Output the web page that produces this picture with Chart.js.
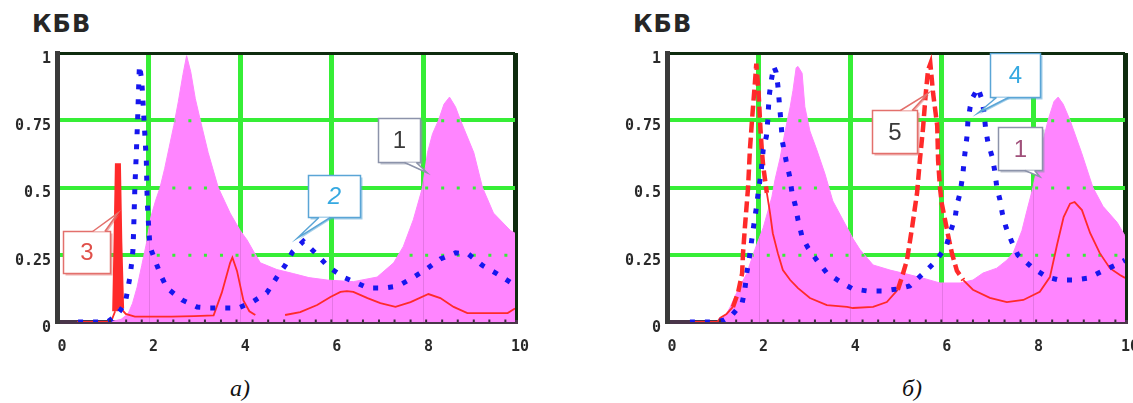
<!DOCTYPE html>
<html lang="ru">
<head>
<meta charset="utf-8">
<title>КБВ</title>
<script src="https://cdn.jsdelivr.net/npm/chart.js@4.4.1/dist/chart.umd.min.js"></script>
<style>
  html, body { margin: 0; padding: 0; background: #fff; }
  body { width: 1133px; height: 403px; overflow: hidden; position: relative; }
  canvas { position: absolute; top: 0; }
  .ttl { position: absolute; top: 12px; font: bold 24px/24px "DejaVu Sans", sans-serif; color: #262626; letter-spacing: 1px; }
  .cap { position: absolute; top: 376px; font: italic 24px/24px "Liberation Serif", serif; color: #111; }
</style>
</head>
<body>
<div class="ttl" style="left:32px">КБВ</div>
<div class="ttl" style="left:633px">КБВ</div>
<canvas id="chartA" width="560" height="370" style="left:0"></canvas>
<canvas id="chartB" width="560" height="370" style="left:610px"></canvas>
<div class="cap" style="left:230px">а)</div>
<div class="cap" style="left:902px">б)</div>

<script>
// ---- axes ----
const xTickVals = [0, 2, 4, 6, 8, 10];
const xTickLabels = ['0', '2', '4', '6', '8', '10'];
const yTickVals = [0, 0.25, 0.5, 0.75, 1];
const yTickLabels = ['0', '0.25', '0.5', '0.75', '1'];

// positions of the small marks along the bottom axis (edges of the KBV-1 bars)
const barEdges = [1.16, 1.51, 1.85, 2.2, 2.54, 2.89, 3.23, 3.58, 3.92, 4.27, 4.61, 4.96, 5.3,
  5.65, 5.99, 6.34, 6.68, 7.03, 7.37, 7.72, 8.06, 8.41, 8.75, 9.1, 9.44, 9.79];

// ---- panel а) ----
// curve 1 (filled)
const curve1A = [[1.15,0],[1.4,0.01],[1.55,0.03],[1.65,0.07],[1.75,0.13],[1.85,0.21],[1.95,0.29],
  [2.05,0.39],[2.15,0.45],[2.25,0.5],[2.35,0.57],[2.45,0.65],[2.55,0.73],[2.65,0.82],[2.75,0.92],
  [2.83,0.99],[2.92,0.93],[3.02,0.83],[3.13,0.75],[3.3,0.63],[3.52,0.5],[3.78,0.405],[4.0,0.34],
  [4.15,0.305],[4.3,0.26],[4.44,0.22],[4.8,0.195],[5.16,0.18],[5.5,0.165],[5.9,0.156],[6.47,0.15],
  [6.99,0.167],[7.35,0.22],[7.56,0.28],[7.78,0.38],[7.98,0.5],[8.09,0.63],[8.2,0.7],[8.33,0.75],
  [8.45,0.81],[8.57,0.836],[8.7,0.8],[8.81,0.75],[9.1,0.63],[9.29,0.5],[9.53,0.405],[9.9,0.34],[10,0.33]];
// curve 2 (dotted)
const curve2A = [[0.46,0],[0.79,0],[1.05,0],[1.12,0.003],[1.31,0.026],[1.49,0.07],[1.55,0.126],
  [1.6,0.175],[1.63,0.22],[1.66,0.27],[1.68,0.38],[1.7,0.5],[1.73,0.62],[1.76,0.75],[1.78,0.86],
  [1.8,0.955],[1.85,0.9],[1.9,0.75],[1.95,0.6],[1.97,0.45],[2.0,0.36],[2.03,0.28],[2.14,0.23],
  [2.25,0.18],[2.4,0.126],[2.73,0.082],[3.06,0.056],[3.34,0.052],[3.63,0.052],[3.96,0.052],
  [4.26,0.074],[4.58,0.108],[4.79,0.164],[4.98,0.21],[5.14,0.26],[5.38,0.3],[5.64,0.257],
  [5.92,0.206],[6.25,0.167],[6.55,0.145],[6.8,0.126],[7.13,0.126],[7.45,0.134],[7.76,0.164],
  [8.07,0.197],[8.37,0.234],[8.7,0.257],[8.98,0.253],[9.29,0.21],[9.6,0.18],[9.92,0.145],[10,0.14]];
// curve 3 (thin solid, with a narrow spike)
const curve3A = [[0.44,0],[1.1,0],[1.2,0.01],[1.27,0.04],[1.3,0.3],[1.33,0.59],[1.36,0.3],
  [1.4,0.05],[1.5,0.03],[1.7,0.02],[2.0,0.02],[2.5,0.02],[3.0,0.022],[3.42,0.025],[3.6,0.11],
  [3.78,0.22],[3.83,0.24],[3.93,0.19],[4.07,0.08],[4.2,0.04],[4.33,0.026],[4.6,null],
  [4.98,0.026],[5.31,0.037],[5.68,0.063],[5.97,0.093],[6.19,0.112],[6.33,0.115],[6.47,0.112],
  [6.78,0.089],[7.06,0.07],[7.39,0.056],[7.72,0.074],[8.11,0.104],[8.37,0.089],[8.66,0.056],
  [8.96,0.033],[9.46,0.033],[9.84,0.033],[10,0.05]];

// ---- panel б) ----
const curve1B = [[1.16,0],[1.3,0.03],[1.38,0.056],[1.52,0.108],[1.74,0.18],[1.92,0.27],[2.1,0.35],
  [2.29,0.465],[2.36,0.53],[2.47,0.61],[2.58,0.71],[2.69,0.8],[2.75,0.86],[2.82,0.945],[2.86,0.95],
  [2.95,0.925],[3.01,0.8],[3.12,0.71],[3.27,0.64],[3.45,0.55],[3.62,0.45],[3.84,0.38],[4.06,0.31],
  [4.21,0.27],[4.5,0.212],[4.87,0.193],[5.24,0.178],[5.59,0.163],[5.96,0.145],[6.4,0.145],
  [6.68,0.156],[6.9,0.182],[7.2,0.2],[7.42,0.23],[7.56,0.257],[7.75,0.34],[7.86,0.415],[7.99,0.5],
  [8.15,0.63],[8.32,0.75],[8.45,0.82],[8.54,0.836],[8.65,0.81],[8.8,0.75],[9.05,0.63],[9.3,0.5],
  [9.52,0.43],[9.83,0.37],[10,0.32]];
// curve 4 (dotted)
const curve4B = [[0.5,0],[0.79,0],[1.09,0],[1.25,0.008],[1.42,0.026],[1.64,0.07],[1.7,0.12],
  [1.74,0.18],[1.79,0.23],[1.83,0.28],[1.87,0.33],[1.92,0.39],[1.96,0.435],[1.99,0.48],[2.05,0.55],
  [2.1,0.64],[2.17,0.69],[2.2,0.75],[2.23,0.84],[2.28,0.9],[2.33,0.95],[2.38,0.93],[2.42,0.88],
  [2.46,0.8],[2.49,0.74],[2.52,0.67],[2.6,0.6],[2.68,0.54],[2.73,0.48],[2.8,0.435],[2.86,0.38],
  [2.95,0.316],[3.08,0.275],[3.27,0.23],[3.49,0.182],[3.82,0.145],[4.06,0.123],[4.39,0.115],
  [4.72,0.115],[5.04,0.123],[5.3,0.134],[5.63,0.186],[5.85,0.223],[6.09,0.279],[6.18,0.33],
  [6.29,0.387],[6.33,0.435],[6.4,0.48],[6.46,0.55],[6.5,0.62],[6.55,0.69],[6.57,0.745],[6.62,0.8],
  [6.68,0.836],[6.79,0.87],[6.88,0.825],[6.92,0.78],[6.96,0.714],[7.01,0.665],[7.1,0.614],
  [7.16,0.558],[7.2,0.502],[7.27,0.454],[7.32,0.405],[7.4,0.353],[7.53,0.297],[7.66,0.249],
  [7.99,0.2],[8.3,0.167],[8.56,0.156],[8.89,0.156],[9.19,0.163],[9.52,0.19],[9.8,0.212],[10,0.23]];
// curve 5 (dashed where it is steep)
const curve5B = [[0.5,0],[1.1,0],[1.16,0.015],[1.3,0.03],[1.44,0.056],[1.55,0.108],[1.64,0.18],
  [1.66,0.256],[1.7,0.35],[1.77,0.5],[1.81,0.64],[1.86,0.76],[1.92,0.89],[1.95,0.96],[2.0,0.85],
  [2.04,0.72],[2.07,0.64],[2.1,0.58],[2.18,0.48],[2.25,0.405],[2.31,0.33],[2.42,0.256],[2.53,0.193],
  [2.69,0.156],[2.86,0.126],[3.12,0.089],[3.49,0.063],[3.93,0.056],[4.06,0.052],[4.5,0.056],
  [4.8,0.074],[5.04,0.12],[5.13,0.167],[5.24,0.23],[5.35,0.35],[5.46,0.48],[5.52,0.6],[5.59,0.72],
  [5.65,0.85],[5.7,0.937],[5.75,0.96],[5.81,0.85],[5.9,0.73],[5.92,0.6],[5.96,0.5],[6.0,0.44],
  [6.07,0.38],[6.14,0.32],[6.22,0.256],[6.33,0.19],[6.47,0.156],[6.68,0.12],[7.05,0.09],
  [7.42,0.074],[7.78,0.082],[8.14,0.112],[8.36,0.167],[8.52,0.29],[8.66,0.39],[8.8,0.44],
  [8.9,0.446],[9.06,0.416],[9.24,0.33],[9.45,0.256],[9.67,0.2],[9.89,0.175],[10,0.164]];

// ---- styling ----
const GREEN = '#36ee36';
const FRAME = '#0e2c0e';
const PINK = '#ff85ff';
const BLUE = '#1616ee';
const RED = '#ff2a2a';

const xy = arr => arr.map(p => ({ x: p[0], y: p[1] }));

// numbered balloon labels: tip in data units, box offset/size in px relative to the tip
const calloutsA = [
  { text: '1', at: [8.08, 0.555], box: [-49, -55, 42, 44], tail: ['bottom', 0.62, 0.9], ink: '#3a3a3a', edge: '#8c93aa' },
  { text: '2', at: [5.25, 0.312], box: [11, -63, 52, 42], tail: ['bottom', 0.2, 0.42], ink: '#36a9e1', edge: '#5aa5d6', italic: true },
  { text: '3', at: [1.33, 0.405], box: [-55, 18, 47, 42], tail: ['top', 0.62, 0.88], ink: '#e0504a', edge: '#e3706c' }
];
const calloutsB = [
  { text: '5', at: [5.7, 0.85], box: [-56, 17, 45, 43], tail: ['top', 0.62, 0.88], ink: '#3a3a3a', edge: '#e3706c' },
  { text: '4', at: [6.79, 0.777], box: [12, -60, 50, 44], tail: ['bottom', 0.12, 0.36], ink: '#36a9e1', edge: '#5aa5d6' },
  { text: '1', at: [8.14, 0.54], box: [-42, -50, 44, 43], tail: ['bottom', 0.6, 0.82], ink: '#a0507a', edge: '#8c93aa' }
];

// grid dots and faint bar edges that show through the filled curve
const bandGridPlugin = {
  id: 'bandGrid',
  afterDatasetDraw(chart, args) {
    const ds = chart.data.datasets[args.index];
    if (!ds.bandGrid) return;
    const pts = args.meta.data;
    const { ctx, chartArea: a, scales: { x, y } } = chart;
    const y0 = y.getPixelForValue(0);
    ctx.save();
    ctx.beginPath();
    ctx.moveTo(pts[0].x, y0);
    pts.forEach(p => ctx.lineTo(p.x, p.y));
    ctx.lineTo(pts[pts.length - 1].x, y0);
    ctx.closePath();
    ctx.clip();
    ctx.strokeStyle = 'rgba(150,70,150,0.25)';
    ctx.lineWidth = 1;
    xTickVals.forEach(v => {
      if (v <= 0 || v >= 10) return;
      const px = Math.round(x.getPixelForValue(v)) + 0.5;
      ctx.beginPath(); ctx.moveTo(px, a.top); ctx.lineTo(px, y0); ctx.stroke();
    });
    ctx.fillStyle = GREEN;
    yTickVals.forEach(v => {
      if (v <= 0 || v >= 1) return;
      const py = y.getPixelForValue(v);
      barEdges.forEach(e => {
        const px = x.getPixelForValue(e);
        ctx.fillRect(px - 1, py - 1, 3, 3);
      });
    });
    ctx.restore();
  }
};

const calloutPlugin = {
  id: 'callouts',
  afterDraw(chart, args, opts) {
    const { ctx, scales: { x, y } } = chart;
    (opts.items || []).forEach(c => {
      const tx = x.getPixelForValue(c.at[0]);
      const ty = y.getPixelForValue(c.at[1]);
      const bx = Math.round(tx + c.box[0]) + 0.5;
      const by = Math.round(ty + c.box[1]) + 0.5;
      const bw = c.box[2], bh = c.box[3];
      const ey = c.tail[0] === 'bottom' ? by + bh : by;
      const t0 = bx + bw * c.tail[1], t1 = bx + bw * c.tail[2];
      ctx.save();
      // shadow
      ctx.globalAlpha = 0.55;
      ctx.fillStyle = c.edge;
      ctx.fillRect(bx + 2, by + 2, bw, bh);
      ctx.beginPath(); ctx.moveTo(t0 + 2, ey + 1); ctx.lineTo(tx + 1.5, ty + 1.5); ctx.lineTo(t1 + 2, ey + 1); ctx.fill();
      ctx.globalAlpha = 1;
      // box
      ctx.fillStyle = '#fff';
      ctx.strokeStyle = c.edge;
      ctx.lineWidth = 1.5;
      ctx.fillRect(bx, by, bw, bh);
      ctx.strokeRect(bx, by, bw, bh);
      // tail
      ctx.beginPath(); ctx.moveTo(t0, ey); ctx.lineTo(tx, ty); ctx.lineTo(t1, ey); ctx.closePath();
      ctx.fill();
      ctx.beginPath(); ctx.moveTo(t0, ey); ctx.lineTo(tx, ty); ctx.lineTo(t1, ey); ctx.stroke();
      // number
      ctx.fillStyle = c.ink;
      ctx.font = (c.italic ? 'italic ' : '') + '24px "Liberation Sans", Arial, sans-serif';
      ctx.textAlign = 'center';
      ctx.textBaseline = 'middle';
      ctx.fillText(c.text, bx + bw / 2, by + bh / 2 + 1);
      ctx.restore();
    });
  }
};

const inRanges = (ranges, v) => ranges.some(r => v >= r[0] && v <= r[1]);

function redDataset(points, thinW, heavy) {
  return {
    data: xy(points),
    borderColor: RED,
    borderWidth: thinW,
    pointRadius: 0,
    fill: false,
    spanGaps: false,
    tension: 0,
    order: 3,
    segment: {
      borderWidth: ctx => inRanges(heavy.ranges, (ctx.p0.parsed.x + ctx.p1.parsed.x) / 2) ? heavy.width : thinW,
      borderDash: ctx => inRanges(heavy.ranges, (ctx.p0.parsed.x + ctx.p1.parsed.x) / 2) ? heavy.dash : []
    }
  };
}

function makeChart(canvasId, fillCurve, dotCurve, redCurve, heavy, callouts) {
  return new Chart(document.getElementById(canvasId), {
    type: 'line',
    data: {
      datasets: [
        { // edge marks along the bottom axis
          data: barEdges.map(e => ({ x: e, y: 0 })),
          showLine: false,
          pointStyle: 'line',
          rotation: 90,
          pointRadius: 2.5,
          pointBorderWidth: 2,
          pointBorderColor: '#3e2a3e',
          order: 0
        },
        {
          data: xy(dotCurve),
          borderColor: BLUE,
          borderWidth: 5,
          borderDash: [5, 10],
          borderCapStyle: 'butt',
          pointRadius: 0,
          fill: false,
          tension: 0,
          order: 2
        },
        redDataset(redCurve, 1.8, heavy),
        {
          data: xy(fillCurve),
          bandGrid: true,
          borderColor: PINK,
          borderWidth: 1,
          backgroundColor: PINK,
          fill: 'origin',
          pointRadius: 0,
          tension: 0,
          order: 4
        }
      ]
    },
    options: {
      responsive: false,
      devicePixelRatio: 1,
      animation: false,
      events: [],
      layout: { autoPadding: false, padding: { left: 0, top: 53, right: 45, bottom: 0 } },
      plugins: {
        legend: { display: false },
        tooltip: { enabled: false },
        callouts: { items: callouts }
      },
      scales: {
        x: {
          type: 'linear',
          min: 0,
          max: 10,
          afterBuildTicks: s => { s.ticks = xTickVals.map(v => ({ value: v })); },
          afterFit: s => { s.height = 48; },
          ticks: {
            callback: (v, i) => xTickLabels[i],
            color: '#2a2a2a',
            font: { family: '"DejaVu Sans Mono", monospace', size: 15, weight: 'bold' },
            padding: 16,
            labelOffset: 5,
            maxRotation: 0,
            autoSkip: false
          },
          grid: {
            drawTicks: false,
            color: c => c.tick.value === 0 ? 'rgba(0,0,0,0)' : (c.tick.value === 10 ? FRAME : GREEN),
            lineWidth: 5
          },
          border: { color: '#4a354a', width: 4 }
        },
        y: {
          type: 'linear',
          min: 0,
          max: 1,
          afterBuildTicks: s => { s.ticks = yTickVals.map(v => ({ value: v })); },
          afterFit: s => { s.width = 57; },
          ticks: {
            callback: (v, i) => yTickLabels[i],
            color: '#2a2a2a',
            font: { family: '"DejaVu Sans Mono", monospace', size: 15, weight: 'bold' },
            padding: 6,
            labelOffset: 6,
            autoSkip: false
          },
          grid: {
            drawTicks: false,
            color: c => c.tick.value === 0 ? 'rgba(0,0,0,0)' : (c.tick.value === 1 ? FRAME : GREEN),
            lineWidth: c => c.tick.value === 1 ? 3 : 4
          },
          border: { color: '#3a3a3a', width: 5 }
        }
      }
    },
    plugins: [bandGridPlugin, calloutPlugin]
  });
}

makeChart('chartA', curve1A, curve2A, curve3A,
  { ranges: [[1.25, 1.42]], width: 6, dash: [] }, calloutsA);
makeChart('chartB', curve1B, curve4B, curve5B,
  { ranges: [[1.4, 2.2], [5.05, 6.5]], width: 4.5, dash: [11, 5] }, calloutsB);
</script>
</body>
</html>
